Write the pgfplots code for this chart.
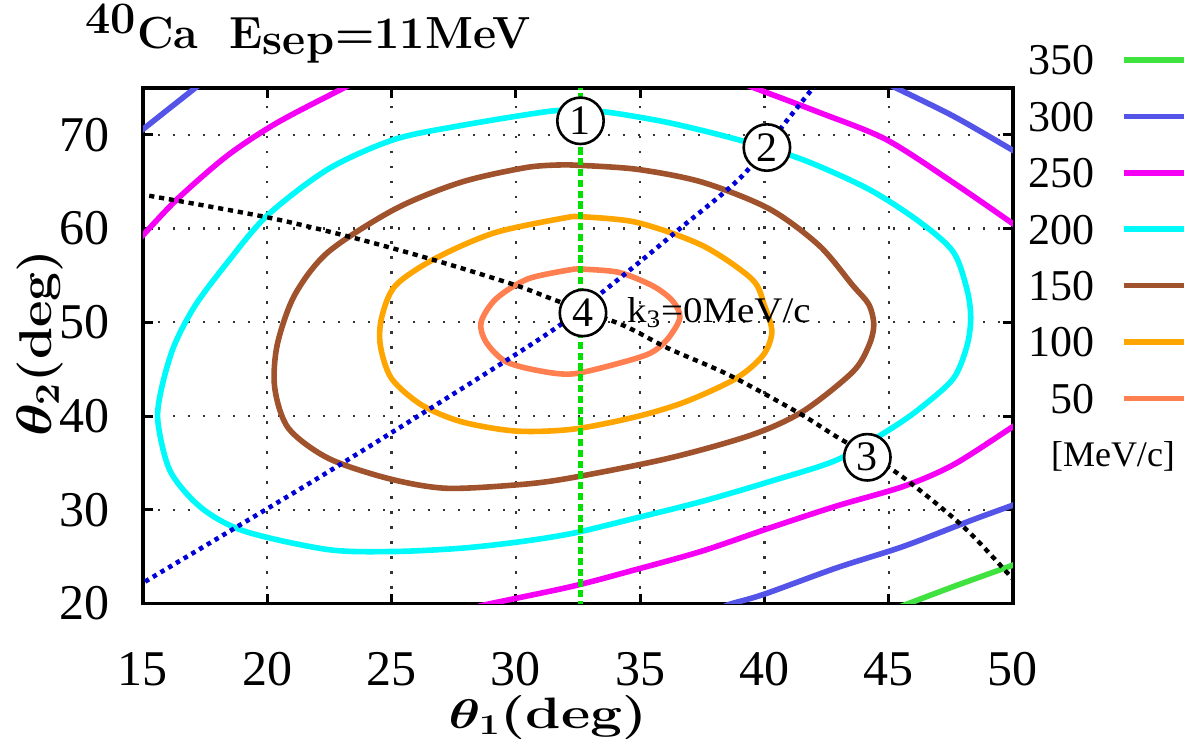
\documentclass[border=0pt]{standalone}
\usepackage{fontspec}
\newfontfamily\timesfont{Liberation Serif}
\usepackage{graphicx}
\usepackage{pgfplots}
\pgfplotsset{compat=1.18}
\definecolor{c350}{RGB}{64,226,64}
\definecolor{c300}{RGB}{84,84,232}
\definecolor{c250}{RGB}{245,0,245}
\definecolor{c200}{RGB}{0,250,250}
\definecolor{c150}{RGB}{160,82,45}
\definecolor{c100}{RGB}{255,165,0}
\definecolor{c50}{RGB}{255,127,80}
\definecolor{kgreen}{RGB}{0,225,0}
\definecolor{kblue}{RGB}{0,0,215}
\tikzset{circ/.style={circle, draw=black, line width=1.3pt, fill=white, minimum size=23.2pt, inner sep=0pt, font=\timesfont\fontsize{21}{21}\selectfont}}
\begin{document}
\begin{tikzpicture}
\path[use as bounding box] (-71.5pt,-68.25pt) rectangle (524pt,301.75pt);
\begin{axis}[
  name=ax, at={(0,0)}, anchor=south west,
  scale only axis, width=435pt, height=257.75pt,
  xmin=15, xmax=50, ymin=20, ymax=75,
  xtick={15,20,...,50}, ytick={20,30,...,70},
  grid=major,
  major grid style={black!80, line width=1.1pt, dash pattern=on 1.1pt off 6.4pt},
  axis line style={line width=1.8pt},
  major tick style={line width=1.5pt, black}, major tick length=5pt,
  tick align=inside,
  /pgf/number format/assume math mode=true,
  tick label style={font=\timesfont\fontsize{25}{30}\selectfont, inner sep=0pt},
  xticklabel style={anchor=base, yshift=-41.2pt},
  yticklabel style={anchor=east, xshift=-16.5pt},
  unbounded coords=jump,
  no markers,
  legend plot pos=right,
  legend cell align=right,
  legend image code/.code={\draw[#1] (0pt,0pt) -- (30pt,0pt);},
  legend style={draw=none, fill=none, inner sep=0pt, outer sep=0pt,
    at={(1.2,1.0836)}, anchor=north east,
    font=\timesfont\fontsize{22}{22}\selectfont,
    row sep=13.2pt, column sep=13.5pt,
    nodes={inner sep=0pt, text height=15pt, text depth=0pt}},
]
% 350
\addplot[c350, line width=2.8pt, smooth] coordinates {(45.5,19.7) (45.8,20) (47.6,21.8) (49.9,24.0) (50.3,24.4)};
\addlegendentry{350}
% 300
\addplot[c300, line width=2.8pt, smooth] coordinates {(14.7,70.0) (15,70.6) (16,72.7) (17.1,75) (17.3,75.4) (nan,nan)
 (45.0,75.4) (45.3,75) (47.6,72.0) (49.9,68.5) (50.2,68.0) (nan,nan)
 (38.4,19.7) (38.7,20) (40,21.0) (42.9,23.8) (45.6,26.1) (48.25,28.8) (49.9,30.4) (50.2,30.7)};
\addlegendentry{300}
% 250
\addplot[c250, line width=2.8pt, smooth] coordinates {(14.7,58.5) (15,59.3) (16.4,63.2) (18.4,67.8) (20.4,71.3) (23.0,74.9) (23.3,75.3) (nan,nan)
 (39.2,75.4) (39.6,75) (42.2,72.4) (44.9,69.5) (47.6,64.9) (49.9,60.7) (50.2,60.1) (nan,nan)
 (28.5,19.7) (29.0,20.0) (32.3,21.85) (34.8,23.6) (37.5,25.6) (40.2,28.05) (42.9,30.4) (45.6,32.5) (47.6,34.8) (49.9,38.7) (50.2,39.2)};
\addlegendentry{250}
% 200
\addplot[c200, line width=2.8pt, smooth] coordinates {(32.5,72.6) (31.3,72.5) (27.8,71.0) (25.1,69.5) (22.45,66.35) (20.0,61.4) (18.4,56.4) (17.1,51.8) (16.25,47.5) (15.75,43.0) (15.6,39.4) (16.1,34.1) (17.35,30.2) (19.1,27.7) (22.45,25.75) (25.1,25.55) (27.8,25.9) (30.2,26.6) (32.3,27.5) (34.8,29.1) (37.5,30.9) (40.2,33.0) (42.9,35.3) (45.0,38.5) (46.25,40.8) (47.6,44.0) (48.15,47.5) (48.3,50.5) (48.15,53.5) (47.6,57.5) (46.25,60.7) (44.2,64.2) (41.5,67.4) (38.85,69.55) (36.15,71.3) (33.75,72.4) (32.5,72.6)};
\addlegendentry{200}
% 150
\addplot[c150, line width=2.8pt, smooth] coordinates {(32.1,66.8) (30.5,66.55) (27.8,64.95) (25.15,62.1) (22.45,57.5) (21.1,52.9) (20.4,47.6) (20.3,43.0) (20.85,38.7) (22.45,35.5) (24.85,33.35) (27.15,32.3) (30.0,32.65) (32.1,33.35) (36.15,35.5) (39.5,38.0) (41.55,40.5) (43.55,44.7) (44.2,47.5) (44.4,49.7) (44.2,51.9) (43.55,53.95) (42.2,58.2) (40.2,62.1) (37.5,64.95) (34.8,66.35) (32.1,66.8)};
\addlegendentry{150}
% 100
\addplot[c100, line width=2.8pt, smooth] coordinates {(32.3,61.3) (29.2,59.6) (26.75,56.8) (25.15,53.9) (24.6,50.5) (24.55,47.5) (25.0,44.0) (26.2,41.2) (27.8,39.4) (30.0,38.4) (32.3,38.6) (34.8,39.9) (36.8,41.5) (38.85,44.0) (39.95,46.5) (40.3,49.0) (40.0,51.8) (39.5,54.6) (37.5,58.2) (34.8,60.7) (32.3,61.3)};
\addlegendentry{100}
% 50
\addplot[c50, line width=2.8pt, smooth] coordinates {(32.4,55.7) (30.5,54.65) (29.2,52.5) (28.6,50.0) (28.8,47.9) (29.6,45.8) (31.0,44.8) (32.3,44.5) (34.1,45.6) (35.4,46.7) (36.1,48.2) (36.6,50.5) (36.3,52.3) (35.5,53.9) (34.1,55.35) (32.4,55.7)};
\addlegendentry{50}
% blue dotted
\addplot[kblue, line width=2.3pt, dash pattern=on 2.2pt off 2.3pt, smooth, forget plot] coordinates {(14.6,21.5) (15,22.2) (22.7,34.45) (31.0,48.3) (33.8,53.9) (36.6,60.0) (39.1,65.6) (41.0,71.85) (41.95,75) (42.1,75.5)};
% black dotted
\addplot[black, line width=2.2pt, dash pattern=on 2.6pt off 2.4pt, smooth, forget plot] coordinates {(14.5,63.8) (15.05,63.6) (20.0,61.2) (23.5,59.0) (26.9,56.5) (30.0,53.95) (31.6,52.35) (34.3,49.7) (36.15,47.2) (38.6,44.35) (41.4,40.3) (42.9,37.8) (45.35,33.9) (48.0,28.2) (49.9,22.9) (50.1,22.3)};
% green dashed
\addplot[kgreen, line width=2.2pt, dash pattern=on 3.6pt off 1.8pt, forget plot] coordinates {(32.6,19.5) (32.6,75.5)};
\node[circ] at (axis cs:32.6,71.5) {1};
\node[circ] at (axis cs:40.1,68.65) {2};
\node[circ] at (axis cs:44.14,35.6) {3};
\node[circ] at (axis cs:32.7,51.0) {4};
\node[anchor=base west, inner sep=0pt, font=\timesfont\fontsize{18}{18}\selectfont] at (axis cs:34.46,50.03) {\scalebox{1.08}[1]{k\textsubscript{3}=0MeV/c}};
\end{axis}
\node[anchor=base west, inner sep=0pt, font=\fontsize{22.5}{26}\selectfont\bfseries\boldmath] at (-29pt,277.5pt) {$^{\textbf{40}}$Ca\hspace{0.7em}E$_{\textbf{sep}}$=11MeV};
\node[inner sep=0pt, font=\fontsize{22}{26}\selectfont\bfseries\boldmath] at (202.5pt,-57pt) {\scalebox{1.29}[1]{$\theta_1$(deg)}};
\node[inner sep=0pt, rotate=90, font=\fontsize{23}{27}\selectfont\bfseries\boldmath] at (-51.5pt,130.25pt) {\scalebox{1.12}[1]{$\theta_2$(deg)}};
\node[inner sep=0pt, font=\timesfont\fontsize{18}{18}\selectfont] at (485pt,73.4pt) {[MeV/c]};
\end{tikzpicture}
\end{document}
